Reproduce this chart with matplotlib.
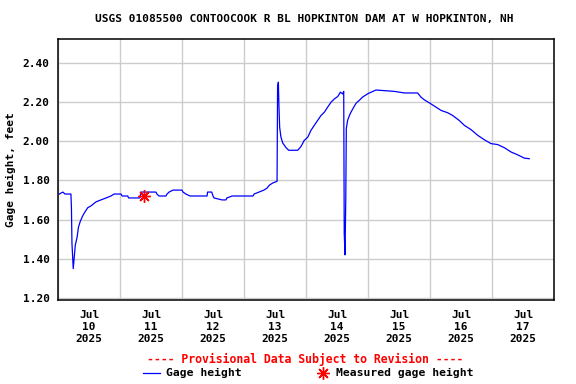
import datetime as dt
import matplotlib
matplotlib.use("Agg")
import matplotlib.pyplot as plt
import matplotlib.dates as mdates
from matplotlib.lines import Line2D

# hours after 2025-07-10 00:00 and gage height (feet)
hours = [0.5, 1.9, 2.7, 5.0, 5.2, 5.4, 5.9, 6.3, 6.7, 7.4, 7.9, 8.6, 9.6, 10.5,
         11.5, 12.8, 14.7, 16.6, 18.6, 20.5, 21.7, 24.4, 24.8, 27.0, 27.3, 31.7,
         32.1, 37.9, 38.3, 39.1, 41.8, 42.2, 43.0, 44.5, 48.0, 48.4, 49.5, 51.1,
         57.7, 57.9, 59.5, 60.0, 60.4, 63.5, 65.0, 65.4, 67.4, 75.5, 75.9, 77.8,
         79.7, 80.9, 81.8, 83.1, 84.8, 85.0, 85.3, 85.5, 85.8, 86.3, 87.0, 88.3,
         89.3, 92.8, 94.1, 95.3, 96.7, 97.9, 99.2, 100.5, 101.8, 103.1, 104.4,
         105.7, 107.0, 108.3, 109.3, 110.2, 110.6, 110.8, 111.1, 111.4, 111.6,
         112.1, 112.8, 113.4, 114.5, 115.4, 116.6, 117.9, 119.9, 121.2, 123.1,
         130.2, 134.1, 139.2, 140.5, 141.8, 143.7, 146.3, 148.3, 150.9, 152.8,
         155.3, 157.3, 159.9, 162.5, 165.0, 167.6, 170.2, 172.8, 175.4, 177.9,
         180.5, 182.4]
gage = [1.73, 1.74, 1.73, 1.73, 1.66, 1.48, 1.35, 1.41, 1.47, 1.51, 1.56, 1.59,
        1.62, 1.64, 1.66, 1.67, 1.69, 1.70, 1.71, 1.72, 1.73, 1.73, 1.72, 1.72,
        1.71, 1.71, 1.74, 1.74, 1.73, 1.72, 1.72, 1.73, 1.74, 1.75, 1.75, 1.74,
        1.73, 1.72, 1.72, 1.74, 1.74, 1.72, 1.71, 1.70, 1.70, 1.71, 1.72, 1.72,
        1.73, 1.74, 1.75, 1.76, 1.775, 1.786, 1.795, 2.275, 2.30, 2.19, 2.07,
        2.02, 1.99, 1.966, 1.953, 1.953, 1.973, 2.003, 2.02, 2.054, 2.08, 2.105,
        2.13, 2.147, 2.173, 2.198, 2.215, 2.227, 2.249, 2.24, 2.253, 1.53, 1.42,
        1.71, 2.063, 2.105, 2.13, 2.147, 2.173, 2.193, 2.207, 2.224, 2.241,
        2.249, 2.26, 2.253, 2.245, 2.245, 2.224, 2.21, 2.195, 2.173, 2.156,
        2.144, 2.13, 2.105, 2.08, 2.058, 2.029, 2.007, 1.987, 1.982, 1.966,
        1.944, 1.93, 1.913, 1.91]
meas_hours = [33.4]
meas_gage = [1.72]

start = dt.datetime(2025, 7, 10)
t = [start + dt.timedelta(hours=h) for h in hours]
tm = [start + dt.timedelta(hours=h) for h in meas_hours]

mono = "DejaVu Sans Mono"
fig = plt.figure(figsize=(5.76, 3.84), dpi=100)
ax = fig.add_axes([58 / 576, 1 - 300 / 384, 496 / 576, 261 / 384])

ax.plot(t, gage, color="#0000ff", lw=0.9)
ax.plot(tm, meas_gage, ls="none", marker=(8, 2, 0), ms=9, mec="red", mew=1.0)

ax.set_xlim(start, start + dt.timedelta(days=8))
ax.set_ylim(1.19, 2.52)
ax.set_yticks([1.2, 1.4, 1.6, 1.8, 2.0, 2.2, 2.4])
ax.set_yticklabels(["%.2f" % v for v in ax.get_yticks()],
                   family=mono, weight="bold", fontsize=8)

ax.xaxis.set_major_locator(mdates.DayLocator())
ax.xaxis.set_major_formatter(plt.NullFormatter())
noons = [start + dt.timedelta(days=i, hours=12) for i in range(8)]
ax.set_xticks(noons, minor=True)
ax.set_xticklabels(["Jul\n%d\n2025" % (10 + i) for i in range(8)], minor=True,
                   family=mono, weight="bold", fontsize=8, linespacing=1.25)
ax.tick_params(axis="both", which="both", length=0)
ax.tick_params(axis="x", which="minor", pad=7)
ax.tick_params(axis="y", pad=6)

ax.grid(True, which="major", color="#cccccc", lw=1.0)
ax.set_axisbelow(True)
for s in ax.spines.values():
    s.set_linewidth(1.1)

ax.set_ylabel("Gage height, feet", family=mono, weight="bold", fontsize=8,
              labelpad=5)

fig.text(304 / 576, 1 - 19 / 384, "USGS 01085500 CONTOOCOOK R BL HOPKINTON DAM AT W HOPKINTON, NH",
         ha="center", va="center", family=mono, weight="bold", fontsize=8)
fig.text(305 / 576, 1 - 359 / 384, "---- Provisional Data Subject to Revision ----",
         ha="center", va="center", family=mono, weight="bold", fontsize=8.3,
         color="red")

fig.lines.append(Line2D([142.7 / 576, 160 / 576], [1 - 372.5 / 384] * 2,
                        color="#0000ff", lw=0.9, transform=fig.transFigure))
fig.text(165.5 / 576, 1 - 372.5 / 384, "Gage height", ha="left", va="center",
         family=mono, weight="bold", fontsize=8.2)
fig.lines.append(Line2D([322.7 / 576], [1 - 372.5 / 384], ls="none",
                        marker=(8, 2, 0), ms=9, mec="red", mew=1.0,
                        transform=fig.transFigure))
fig.text(336.5 / 576, 1 - 372.5 / 384, "Measured gage height", ha="left",
         va="center", family=mono, weight="bold", fontsize=8.2)

fig.savefig("out.png", dpi=100)
